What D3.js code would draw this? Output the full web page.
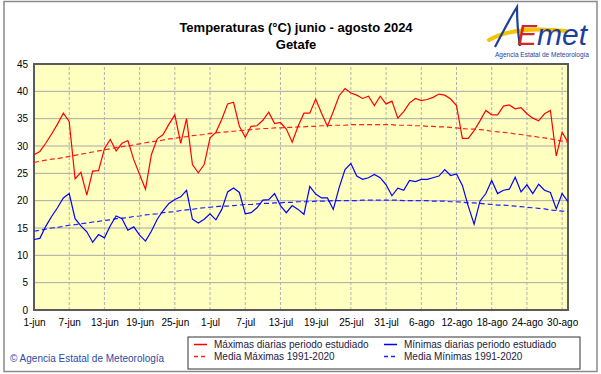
<!DOCTYPE html>
<html>
<head>
<meta charset="utf-8">
<script src="https://cdn.jsdelivr.net/npm/d3@7"></script>
<style>
body { margin: 0; background: #fff; }
svg { display: block; font-family: "Liberation Sans", Arial, sans-serif; }
</style>
</head>
<body>
<div id="chart"></div>
<script>
// daily values, 1-jun .. 31-ago 2024
var maxT = [28.4,29.0,30.5,32.2,34.0,36.0,34.5,24.0,25.2,21.0,
  25.4,25.5,29.5,31.2,29.1,30.5,31.0,27.5,24.8,22.1,
  28.4,31.3,32.1,34.0,35.7,30.5,35.0,26.6,25.1,26.6,
  31.5,32.5,34.9,37.7,38.0,33.6,31.6,33.6,33.7,34.7,
  36.2,34.1,34.3,33.1,30.7,33.6,36.0,36.0,38.6,36.0,
  33.6,36.3,39.2,40.5,39.7,39.3,38.7,39.1,37.4,39.1,
  37.7,38.2,35.1,36.3,37.9,38.7,38.3,38.5,38.9,39.5,
  39.3,38.6,37.4,31.4,31.4,32.8,34.6,36.5,35.7,35.7,
  37.3,37.5,36.8,37.0,35.9,35.1,34.6,35.9,36.5,28.2,
  32.5,30.7];
var minT = [12.9,13.1,15.3,17.1,18.7,20.5,21.3,16.7,15.4,14.3,
  12.4,13.8,13.2,15.4,17.2,16.7,14.6,15.2,13.7,12.6,
  14.4,16.6,18.2,19.5,20.2,20.7,21.9,16.6,15.9,16.6,
  17.6,16.5,18.4,21.6,22.3,21.5,17.6,17.8,18.7,20.1,
  20.2,21.3,19.1,17.8,19.1,18.4,17.5,22.6,21.2,20.5,
  20.5,18.4,22.4,25.7,26.8,24.5,23.9,24.2,24.8,24.2,
  22.9,20.9,22.3,21.9,23.7,23.5,23.9,23.9,24.2,24.5,
  25.7,24.6,24.9,22.8,19.0,15.7,19.9,21.3,23.7,21.3,
  21.9,22.1,24.3,21.6,22.9,21.3,23.0,21.9,21.5,18.5,
  21.3,19.8];
// climatological means 1991-2020
var meanMax = [27.0,27.2,27.4,27.6,27.7,27.9,28.1,28.3,28.5,28.7,
  28.9,29.1,29.3,29.5,29.7,29.9,30.0,30.2,30.4,30.6,
  30.8,30.9,31.1,31.3,31.4,31.6,31.7,31.9,32.0,32.1,
  32.3,32.4,32.5,32.6,32.7,32.8,32.9,33.0,33.1,33.2,
  33.2,33.3,33.3,33.4,33.4,33.5,33.5,33.6,33.6,33.7,
  33.7,33.8,33.8,33.8,33.9,33.9,33.9,33.9,33.9,33.9,
  33.9,33.9,33.8,33.8,33.8,33.7,33.7,33.6,33.6,33.5,
  33.5,33.4,33.3,33.2,33.1,33.1,33.0,32.9,32.7,32.6,
  32.5,32.4,32.2,32.1,31.9,31.8,31.6,31.5,31.3,31.1,
  30.9,30.7];
var meanMin = [14.4,14.6,14.8,15.0,15.1,15.3,15.5,15.6,15.8,15.9,
  16.1,16.2,16.4,16.5,16.7,16.8,16.9,17.1,17.2,17.4,
  17.5,17.6,17.8,17.9,18.0,18.2,18.3,18.4,18.6,18.7,
  18.8,18.9,19.0,19.0,19.1,19.2,19.3,19.3,19.4,19.5,
  19.5,19.6,19.6,19.7,19.7,19.8,19.8,19.8,19.9,19.9,
  19.9,20.0,20.0,20.0,20.0,20.0,20.1,20.1,20.1,20.1,
  20.1,20.1,20.1,20.0,20.0,20.0,20.0,20.0,19.9,19.9,
  19.9,19.8,19.8,19.7,19.6,19.6,19.5,19.4,19.3,19.2,
  19.2,19.1,19.0,18.9,18.8,18.7,18.6,18.5,18.3,18.2,
  18.1,18.0];
var tickDays = [0,6,12,18,24,30,36,42,48,54,60,66,72,78,84,90];
var tickLabels = ["1-jun","7-jun","13-jun","19-jun","25-jun","1-jul","7-jul","13-jul",
  "19-jul","25-jul","31-jul","6-ago","12-ago","18-ago","24-ago","30-ago"];
var yTicks = [0,5,10,15,20,25,30,35,40,45];

var width = 601, height = 374;
var svg = d3.select("#chart").append("svg")
  .attr("width", width).attr("height", height);

// outer frame
svg.append("rect")
  .attr("x", 4).attr("y", 1.5).attr("width", 593).attr("height", 370)
  .attr("fill", "none").attr("stroke", "#8a8a8a").attr("stroke-width", 1.5);

var x = d3.scaleLinear().domain([0, 91]).range([34, 568]);
var y = d3.scaleLinear().domain([0, 45]).range([310, 64]);

svg.append("rect")
  .attr("x", x(0)).attr("y", y(45))
  .attr("width", x(91) - x(0)).attr("height", y(0) - y(45))
  .attr("fill", "#ffffc0");

// grid
svg.append("g").selectAll("line").data(yTicks).enter().append("line")
  .attr("x1", x(0)).attr("x2", x(91))
  .attr("y1", d => y(d)).attr("y2", d => y(d))
  .attr("stroke", "#a9a9a9").attr("stroke-width", 1);
svg.append("g").selectAll("line").data(tickDays).enter().append("line")
  .attr("x1", d => x(d)).attr("x2", d => x(d))
  .attr("y1", y(0)).attr("y2", y(45))
  .attr("stroke", "#b0b0b0").attr("stroke-width", 1)
  .attr("stroke-dasharray", "3,2");

// axes (labels only)
var yAxis = svg.append("g")
  .attr("transform", "translate(" + x(0) + ",0)")
  .call(d3.axisLeft(y).tickValues(yTicks).tickSize(0).tickPadding(6));
var xAxis = svg.append("g")
  .attr("transform", "translate(0," + y(0) + ")")
  .call(d3.axisBottom(x).tickValues(tickDays).tickSize(0).tickPadding(9)
    .tickFormat((d, i) => tickLabels[i]));
[yAxis, xAxis].forEach(function(a) {
  a.select(".domain").remove();
  a.selectAll("text").attr("fill", "#000")
    .style("font-size", "10px").style("font-family", "'Liberation Sans', Arial, sans-serif");
});

// plot border
svg.append("rect")
  .attr("x", x(0)).attr("y", y(45))
  .attr("width", x(91) - x(0)).attr("height", y(0) - y(45))
  .attr("fill", "none").attr("stroke", "#5a5a5a").attr("stroke-width", 2);

var line = d3.line().x((d, i) => x(i)).y(d => y(d));

svg.append("path").datum(meanMax).attr("d", line)
  .attr("fill", "none").attr("stroke", "#ff2020").attr("stroke-width", 1.2)
  .attr("stroke-dasharray", "5,3");
svg.append("path").datum(meanMin).attr("d", line)
  .attr("fill", "none").attr("stroke", "#2020ff").attr("stroke-width", 1.2)
  .attr("stroke-dasharray", "5,3");
svg.append("path").datum(maxT).attr("d", line)
  .attr("fill", "none").attr("stroke", "#ff0000").attr("stroke-width", 1.2);
svg.append("path").datum(minT).attr("d", line)
  .attr("fill", "none").attr("stroke", "#0000ff").attr("stroke-width", 1.2);

// titles
svg.append("text").attr("x", 296).attr("y", 32).attr("text-anchor", "middle")
  .style("font-size", "13px").style("font-weight", "bold")
  .text("Temperaturas (°C) junio - agosto 2024");
svg.append("text").attr("x", 296).attr("y", 49).attr("text-anchor", "middle")
  .style("font-size", "13px").style("font-weight", "bold")
  .text("Getafe");

// logo
var logo = svg.append("g");
logo.append("path").attr("d", "M489,40 C505,31 530,27 566,31")
  .attr("fill", "none").attr("stroke", "#f4c300").attr("stroke-width", 4)
  .attr("stroke-linecap", "round");
logo.append("path").attr("d", "M495,47 C503,32 510,18 517,7 C517,20 518,34 520,46")
  .attr("fill", "none").attr("stroke", "#1c3f9c").attr("stroke-width", 2.2);
logo.append("text").attr("x", 517).attr("y", 45)
  .style("font-size", "30px").style("font-style", "italic")
  .attr("fill", "#d9261c").text("E");
logo.append("text").attr("x", 537).attr("y", 45)
  .style("font-size", "30px").style("font-style", "italic")
  .attr("fill", "#1c3f9c").text("met");
logo.append("text").attr("x", 542).attr("y", 57).attr("text-anchor", "middle")
  .style("font-size", "6.5px").attr("fill", "#1c3f9c")
  .text("Agencia Estatal de Meteorología");

// footer
svg.append("text").attr("x", 10).attr("y", 362)
  .style("font-size", "10px").attr("fill", "#2c4aa6")
  .text("© Agencia Estatal de Meteorología");

// legend
var lg = svg.append("g");
lg.append("rect").attr("x", 188).attr("y", 337).attr("width", 392).attr("height", 32)
  .attr("fill", "#fff").attr("stroke", "#333").attr("stroke-width", 1);
var items = [
  {t: "Máximas diarias periodo estudiado", c: "#ff0000", dash: null, x: 194, y: 348},
  {t: "Mínimas diarias periodo estudiado", c: "#0000ff", dash: null, x: 384, y: 348},
  {t: "Media Máximas 1991-2020", c: "#ff2020", dash: "4,3", x: 194, y: 360},
  {t: "Media Mínimas 1991-2020", c: "#2020ff", dash: "4,3", x: 384, y: 360}
];
var it = lg.selectAll(".key").data(items).enter().append("g").attr("class", "key");
it.append("line")
  .attr("x1", d => d.x).attr("x2", d => d.x + 13)
  .attr("y1", d => d.y - 3.5).attr("y2", d => d.y - 3.5)
  .attr("stroke", d => d.c).attr("stroke-width", 1.5)
  .attr("stroke-dasharray", d => d.dash);
it.append("text")
  .attr("x", d => d.x + 20).attr("y", d => d.y)
  .style("font-size", "10px").attr("fill", "#1a1a40")
  .text(d => d.t);
</script>
</body>
</html>
